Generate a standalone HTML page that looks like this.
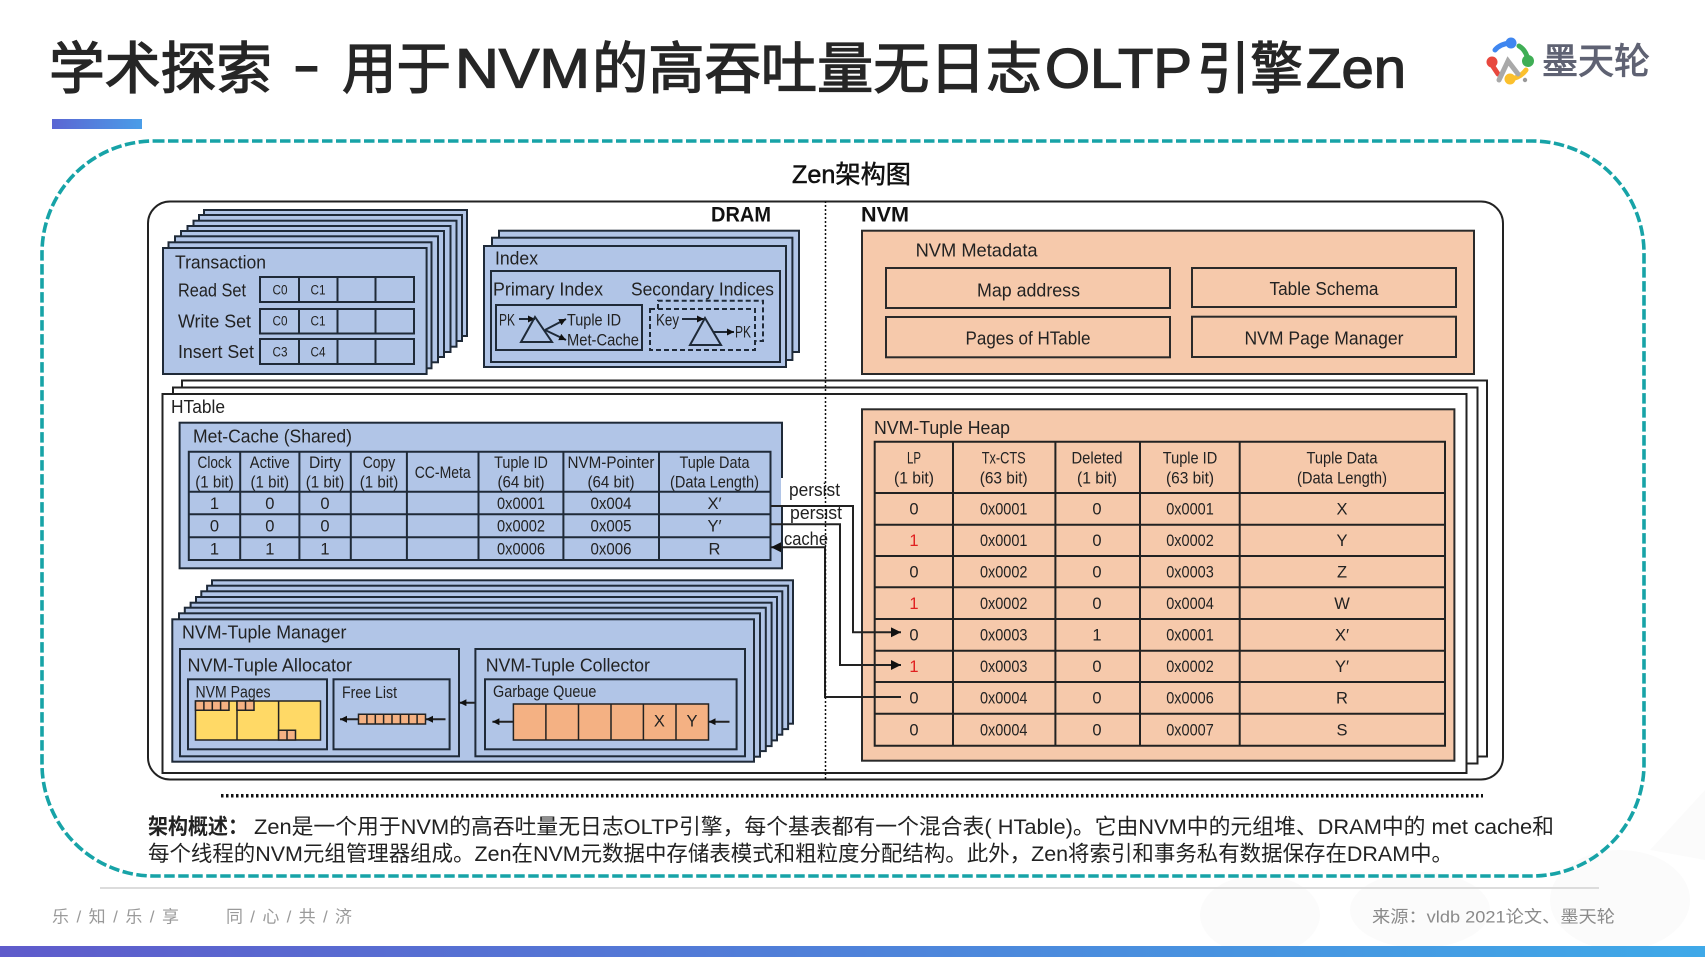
<!DOCTYPE html>
<html lang="zh"><head><meta charset="utf-8"><title>Zen架构图</title>
<style>
html,body{margin:0;padding:0;background:#fff;width:1705px;height:957px;overflow:hidden}
svg{display:block}
text{font-family:"Liberation Sans","Noto Sans CJK SC",sans-serif;fill:#222;font-size:18px;dominant-baseline:central}
.m{text-anchor:middle}
.s{font-size:16.5px}
.c{font-size:13.5px}
.b{fill:#b1c5e7;stroke:#1f2a38;stroke-width:2}
.o{fill:#f6c9ab;stroke:#2a2a2a;stroke-width:2}
.w{fill:#fff;stroke:#222;stroke-width:2}
.n{fill:none;stroke:#1f2a38;stroke-width:2}
.l{fill:none;stroke:#222;stroke-width:2}
.q{fill:#f4b183;stroke:#222;stroke-width:1.5}
.r{fill:#e02020}
.f{fill:#9a9a9a;font-size:17px}
.t{font-size:56px;fill:#262626;stroke:#262626;stroke-width:1.3px}
</style></head><body>
<svg width="1705" height="957" viewBox="0 0 1705 957" xmlns="http://www.w3.org/2000/svg">
<defs>
<linearGradient id="g1"><stop offset="0" stop-color="#5f5bcb"/><stop offset="1" stop-color="#3fa9e8"/></linearGradient>
<linearGradient id="g2"><stop offset="0" stop-color="#5b66d3"/><stop offset="1" stop-color="#4a9de8"/></linearGradient>
<marker id="a" markerUnits="userSpaceOnUse" markerWidth="11" markerHeight="11" refX="10" refY="5" orient="auto"><path d="M0 0L10 5L0 10Z" fill="#111"/></marker>
<marker id="a2" markerUnits="userSpaceOnUse" markerWidth="8" markerHeight="8" refX="7" refY="3.5" orient="auto"><path d="M0 0L7 3.5L0 7Z" fill="#111"/></marker>
</defs>

<!-- faint watermark -->
<g fill="#fbfbfb">
<ellipse cx="1260" cy="915" rx="60" ry="40"/>
<ellipse cx="1420" cy="910" rx="70" ry="38"/>
<ellipse cx="1620" cy="900" rx="70" ry="50"/>
<path d="M1650 850L1705 790V860Z"/>
</g>

<!-- header -->
<text class="t" x="49" y="69" textLength="223" lengthAdjust="spacingAndGlyphs">学术探索</text>
<text class="t" x="293" y="64" textLength="27" lengthAdjust="spacingAndGlyphs">-</text>
<text class="t" x="342" y="69" textLength="109" lengthAdjust="spacingAndGlyphs">用于</text>
<text class="t" x="455" y="68" textLength="135" lengthAdjust="spacingAndGlyphs">NVM</text>
<text class="t" x="592" y="69" textLength="450" lengthAdjust="spacingAndGlyphs">的高吞吐量无日志</text>
<text class="t" x="1045" y="68" textLength="147" lengthAdjust="spacingAndGlyphs">OLTP</text>
<text class="t" x="1197" y="69" textLength="106" lengthAdjust="spacingAndGlyphs">引擎</text>
<text class="t" x="1306" y="68" textLength="100" lengthAdjust="spacingAndGlyphs">Zen</text>
<rect x="52" y="119" width="90" height="10" fill="url(#g2)"/>

<!-- logo -->
<g fill="none" stroke-width="5" stroke-linecap="round">
<path d="M1495 50Q1500 44 1510 43" stroke="#3f86f0"/><circle cx="1511" cy="43" r="5.5" fill="#3f86f0" stroke="none"/>
<path d="M1519 46Q1526 50 1528 60" stroke="#3fae55"/><circle cx="1528" cy="61" r="6" fill="#3fae55" stroke="none"/>
<circle cx="1492" cy="62" r="5.5" fill="#e8483e" stroke="none"/><path d="M1492 65L1498 74" stroke="#e8483e"/>
<path d="M1510 79Q1520 78 1526 70" stroke="#fbc02d"/><circle cx="1510" cy="79" r="5.5" fill="#fbc02d" stroke="none"/>
<path d="M1499 80L1508 61L1518 74" stroke="#a9a9a9"/><circle cx="1525" cy="80" r="2.2" fill="#999" stroke="none"/>
</g>
<text x="1542" y="61" textLength="108" lengthAdjust="spacingAndGlyphs" style="font-size:36px;fill:#5f6273;stroke:#5f6273;stroke-width:.9px">墨天轮</text>

<!-- dashed frame -->
<rect x="42" y="141" width="1602" height="735" rx="112" ry="112" fill="none" stroke="#17a3a7" stroke-width="3.6" stroke-dasharray="10.5 3.5"/>
<text x="792" y="175" textLength="119" lengthAdjust="spacingAndGlyphs" style="font-size:25px;fill:#111;stroke:#111;stroke-width:.5px">Zen架构图</text>

<!-- outer container -->
<rect x="148" y="201.500" width="1355" height="578" rx="22" fill="#fff" stroke="#222" stroke-width="2"/>

<!-- HTable stack -->
<rect class="w" x="182" y="380.500" width="1305" height="376"/>
<rect class="w" x="173" y="387.500" width="1304.500" height="376"/>
<rect class="w" x="162.500" y="394" width="1304" height="379"/>
<text x="171" y="407" textLength="54" lengthAdjust="spacingAndGlyphs">HTable</text>

<text x="711" y="215" textLength="60" lengthAdjust="spacingAndGlyphs" style="font-size:21px;font-weight:700;fill:#111">DRAM</text>
<text x="861" y="215" textLength="48" lengthAdjust="spacingAndGlyphs" style="font-size:21px;font-weight:700;fill:#111">NVM</text>

<!-- Transaction stack -->
<g class="b">
<rect class="b" x="204" y="210" width="263" height="126"/>
<rect class="b" x="199" y="215" width="263" height="126"/>
<rect class="b" x="193.500" y="220.700" width="263" height="126"/>
<rect class="b" x="187.500" y="226" width="263" height="126"/>
<rect class="b" x="181" y="231" width="263" height="126"/>
<rect class="b" x="175" y="236.300" width="263" height="126"/>
<rect class="b" x="168.500" y="242.300" width="263" height="126"/>
<rect class="b" x="163" y="248" width="263.600" height="126"/>
</g>
<text x="175" y="262.500" textLength="91" lengthAdjust="spacingAndGlyphs">Transaction</text>
<text x="178" y="290.500" textLength="68" lengthAdjust="spacingAndGlyphs">Read Set</text>
<text x="178" y="321.500" textLength="73" lengthAdjust="spacingAndGlyphs">Write Set</text>
<text x="178" y="352" textLength="76" lengthAdjust="spacingAndGlyphs">Insert Set</text>
<g class="n">
<rect class="n" x="260" y="277" width="154" height="25"/><path class="n" d="M299 277V302M337.500 277V302M375.500 277V302"/>
<rect class="n" x="260" y="309" width="154" height="24.500"/><path class="n" d="M299 309V333.500M337.500 309V333.500M375.500 309V333.500"/>
<rect class="n" x="260" y="339" width="154" height="25"/><path class="n" d="M299 339V364M337.500 339V364M375.500 339V364"/>
</g>
<g class="c">
<text class="m c" x="280" y="290" textLength="15" lengthAdjust="spacingAndGlyphs">C0</text><text class="m c" x="318" y="290" textLength="15" lengthAdjust="spacingAndGlyphs">C1</text>
<text class="m c" x="280" y="321" textLength="15" lengthAdjust="spacingAndGlyphs">C0</text><text class="m c" x="318" y="321" textLength="15" lengthAdjust="spacingAndGlyphs">C1</text>
<text class="m c" x="280" y="352" textLength="15" lengthAdjust="spacingAndGlyphs">C3</text><text class="m c" x="318" y="352" textLength="15" lengthAdjust="spacingAndGlyphs">C4</text>
</g>

<!-- Index stack -->
<rect class="b" x="499" y="230.700" width="300" height="121.300"/>
<rect class="b" x="492" y="237.700" width="300.400" height="122.300"/>
<rect class="b" x="484" y="246" width="302" height="121"/>
<rect class="n" x="491" y="271" width="289" height="91"/>
<text x="495" y="258.500" textLength="43" lengthAdjust="spacingAndGlyphs">Index</text>
<text x="493" y="289.500" textLength="110" lengthAdjust="spacingAndGlyphs">Primary Index</text>
<text x="631" y="289.500" textLength="143" lengthAdjust="spacingAndGlyphs">Secondary Indices</text>
<rect class="n" x="496" y="305" width="146" height="45"/>
<text class="s" x="499" y="320.500" textLength="16" lengthAdjust="spacingAndGlyphs">PK</text>
<path class="n" d="M519 319H535" marker-end="url(#a2)"/>
<path class="n" d="M535 317L521 342H552Z"/>
<path class="n" d="M545 330L566 319" marker-end="url(#a2)"/>
<path class="n" d="M545 330L566 340" marker-end="url(#a2)"/>
<text class="s" x="567" y="320.500" textLength="54" lengthAdjust="spacingAndGlyphs">Tuple ID</text>
<text class="s" x="567" y="340.500" textLength="72" lengthAdjust="spacingAndGlyphs">Met-Cache</text>
<path class="n" d="M658 309V300.700H763V341H755" stroke-dasharray="5 3"/>
<rect class="n" x="650" y="309" width="105" height="41" stroke-dasharray="5 3"/>
<text class="s" x="656" y="320.500" textLength="23" lengthAdjust="spacingAndGlyphs">Key</text>
<path class="n" d="M682 319H704" marker-end="url(#a2)"/>
<path class="n" d="M705 318L690 345H721Z"/>
<path class="n" d="M713 332H734" marker-end="url(#a2)"/>
<text class="s" x="735" y="332.500" textLength="16" lengthAdjust="spacingAndGlyphs">PK</text>

<!-- NVM Metadata -->
<rect class="o" x="862" y="230.700" width="612" height="143.300"/>
<text x="915.600" y="250.500" textLength="122" lengthAdjust="spacingAndGlyphs">NVM Metadata</text>
<rect class="o" x="886" y="268" width="284" height="40"/>
<rect class="o" x="1192" y="268" width="264" height="39"/>
<rect class="o" x="886" y="317" width="284" height="40.300"/>
<rect class="o" x="1192" y="316.700" width="264" height="40.300"/>
<text class="m" x="1028.500" y="290.500" textLength="103" lengthAdjust="spacingAndGlyphs">Map address</text>
<text class="m" x="1324" y="289.200" textLength="109" lengthAdjust="spacingAndGlyphs">Table Schema</text>
<text class="m" x="1028" y="338.500" textLength="125" lengthAdjust="spacingAndGlyphs">Pages of HTable</text>
<text class="m" x="1324" y="338.500" textLength="159" lengthAdjust="spacingAndGlyphs">NVM Page Manager</text>

<!-- Met-Cache -->
<rect class="b" x="179.600" y="422.700" width="602.400" height="145.600"/>
<rect x="781" y="478" width="6" height="28" fill="#fff"/>
<text x="193" y="436.500" textLength="159" lengthAdjust="spacingAndGlyphs">Met-Cache (Shared)</text>
<path class="n" d="M188.800 451.700H770.500V560H188.800ZM188.800 491.700H770.500M188.800 514.300H770.500M188.800 537.300H770.500M240.200 451.700V560M299.400 451.700V560M350.800 451.700V560M406.900 451.700V560M478.500 451.700V560M563.400 451.700V560M659 451.700V560"/>
<text class="m s" x="214.500" y="463" textLength="34" lengthAdjust="spacingAndGlyphs">Clock</text><text class="m s" x="214.500" y="482.600" textLength="38.500" lengthAdjust="spacingAndGlyphs">(1 bit)</text>
<text class="m s" x="269.800" y="463" textLength="40" lengthAdjust="spacingAndGlyphs">Active</text><text class="m s" x="269.800" y="482.600" textLength="38.500" lengthAdjust="spacingAndGlyphs">(1 bit)</text>
<text class="m s" x="325" y="463" textLength="32" lengthAdjust="spacingAndGlyphs">Dirty</text><text class="m s" x="325" y="482.600" textLength="38.500" lengthAdjust="spacingAndGlyphs">(1 bit)</text>
<text class="m s" x="379" y="463" textLength="32.600" lengthAdjust="spacingAndGlyphs">Copy</text><text class="m s" x="379" y="482.600" textLength="38.500" lengthAdjust="spacingAndGlyphs">(1 bit)</text>
<text class="m s" x="442.700" y="473" textLength="56" lengthAdjust="spacingAndGlyphs">CC-Meta</text>
<text class="m s" x="521" y="463" textLength="53.700" lengthAdjust="spacingAndGlyphs">Tuple ID</text><text class="m s" x="521" y="482.600" textLength="47" lengthAdjust="spacingAndGlyphs">(64 bit)</text>
<text class="m s" x="611" y="463" textLength="87" lengthAdjust="spacingAndGlyphs">NVM-Pointer</text><text class="m s" x="611" y="482.600" textLength="47" lengthAdjust="spacingAndGlyphs">(64 bit)</text>
<text class="m s" x="714.500" y="463" textLength="70" lengthAdjust="spacingAndGlyphs">Tuple Data</text><text class="m s" x="714.500" y="482.600" textLength="89" lengthAdjust="spacingAndGlyphs">(Data Length)</text>
<text class="m s" x="214.500" y="504">1</text><text class="m s" x="269.800" y="504">0</text><text class="m s" x="325" y="504">0</text><text class="m s" x="521" y="504" textLength="48" lengthAdjust="spacingAndGlyphs">0x0001</text><text class="m s" x="611" y="504" textLength="41" lengthAdjust="spacingAndGlyphs">0x004</text><text class="m s" x="714.500" y="504">X′</text>
<text class="m s" x="214.500" y="526.600">0</text><text class="m s" x="269.800" y="526.600">0</text><text class="m s" x="325" y="526.600">0</text><text class="m s" x="521" y="526.600" textLength="48" lengthAdjust="spacingAndGlyphs">0x0002</text><text class="m s" x="611" y="526.600" textLength="41" lengthAdjust="spacingAndGlyphs">0x005</text><text class="m s" x="714.500" y="526.600">Y′</text>
<text class="m s" x="214.500" y="549.600">1</text><text class="m s" x="269.800" y="549.600">1</text><text class="m s" x="325" y="549.600">1</text><text class="m s" x="521" y="549.600" textLength="48" lengthAdjust="spacingAndGlyphs">0x0006</text><text class="m s" x="611" y="549.600" textLength="41" lengthAdjust="spacingAndGlyphs">0x006</text><text class="m s" x="714.500" y="549.600">R</text>

<!-- NVM-Tuple Heap -->
<rect class="o" x="862" y="409.300" width="592.400" height="351.400"/>
<text x="874" y="428.200" textLength="136" lengthAdjust="spacingAndGlyphs">NVM-Tuple Heap</text>
<path class="l" d="M874.700 441.700H1445V745.700H874.700ZM874.700 493H1445M874.700 524.700H1445M874.700 556H1445M874.700 587.300H1445M874.700 619H1445M874.700 650.700H1445M874.700 682H1445M874.700 713.700H1445M953 441.700V745.700M1055.400 441.700V745.700M1140 441.700V745.700M1239.700 441.700V745.700"/>
<text class="m s" x="914" y="458.300" textLength="14" lengthAdjust="spacingAndGlyphs">LP</text><text class="m s" x="914" y="478.300" textLength="40" lengthAdjust="spacingAndGlyphs">(1 bit)</text>
<text class="m s" x="1003.700" y="458.300" textLength="44" lengthAdjust="spacingAndGlyphs">Tx-CTS</text><text class="m s" x="1003.700" y="478.300" textLength="48" lengthAdjust="spacingAndGlyphs">(63 bit)</text>
<text class="m s" x="1097" y="458.300" textLength="51" lengthAdjust="spacingAndGlyphs">Deleted</text><text class="m s" x="1097" y="478.300" textLength="40" lengthAdjust="spacingAndGlyphs">(1 bit)</text>
<text class="m s" x="1190" y="458.300" textLength="54.500" lengthAdjust="spacingAndGlyphs">Tuple ID</text><text class="m s" x="1190" y="478.300" textLength="48" lengthAdjust="spacingAndGlyphs">(63 bit)</text>
<text class="m s" x="1342" y="458.300" textLength="71" lengthAdjust="spacingAndGlyphs">Tuple Data</text><text class="m s" x="1342" y="478.300" textLength="90" lengthAdjust="spacingAndGlyphs">(Data Length)</text>

<text class="m s" x="914" y="509.300">0</text><text class="m s" x="1003.700" y="509.300" textLength="47.500" lengthAdjust="spacingAndGlyphs">0x0001</text><text class="m s" x="1097" y="509.300">0</text><text class="m s" x="1190" y="509.300" textLength="47.500" lengthAdjust="spacingAndGlyphs">0x0001</text><text class="m s" x="1342" y="509.300">X</text>
<text class="m s r" x="914" y="541">1</text><text class="m s" x="1003.700" y="541" textLength="47.500" lengthAdjust="spacingAndGlyphs">0x0001</text><text class="m s" x="1097" y="541">0</text><text class="m s" x="1190" y="541" textLength="47.500" lengthAdjust="spacingAndGlyphs">0x0002</text><text class="m s" x="1342" y="541">Y</text>
<text class="m s" x="914" y="572.700">0</text><text class="m s" x="1003.700" y="572.700" textLength="47.500" lengthAdjust="spacingAndGlyphs">0x0002</text><text class="m s" x="1097" y="572.700">0</text><text class="m s" x="1190" y="572.700" textLength="47.500" lengthAdjust="spacingAndGlyphs">0x0003</text><text class="m s" x="1342" y="572.700">Z</text>
<text class="m s r" x="914" y="604">1</text><text class="m s" x="1003.700" y="604" textLength="47.500" lengthAdjust="spacingAndGlyphs">0x0002</text><text class="m s" x="1097" y="604">0</text><text class="m s" x="1190" y="604" textLength="47.500" lengthAdjust="spacingAndGlyphs">0x0004</text><text class="m s" x="1342" y="604">W</text>
<text class="m s" x="914" y="635.700">0</text><text class="m s" x="1003.700" y="635.700" textLength="47.500" lengthAdjust="spacingAndGlyphs">0x0003</text><text class="m s" x="1097" y="635.700">1</text><text class="m s" x="1190" y="635.700" textLength="47.500" lengthAdjust="spacingAndGlyphs">0x0001</text><text class="m s" x="1342" y="635.700">X′</text>
<text class="m s r" x="914" y="667">1</text><text class="m s" x="1003.700" y="667" textLength="47.500" lengthAdjust="spacingAndGlyphs">0x0003</text><text class="m s" x="1097" y="667">0</text><text class="m s" x="1190" y="667" textLength="47.500" lengthAdjust="spacingAndGlyphs">0x0002</text><text class="m s" x="1342" y="667">Y′</text>
<text class="m s" x="914" y="698.700">0</text><text class="m s" x="1003.700" y="698.700" textLength="47.500" lengthAdjust="spacingAndGlyphs">0x0004</text><text class="m s" x="1097" y="698.700">0</text><text class="m s" x="1190" y="698.700" textLength="47.500" lengthAdjust="spacingAndGlyphs">0x0006</text><text class="m s" x="1342" y="698.700">R</text>
<text class="m s" x="914" y="730.300">0</text><text class="m s" x="1003.700" y="730.300" textLength="47.500" lengthAdjust="spacingAndGlyphs">0x0004</text><text class="m s" x="1097" y="730.300">0</text><text class="m s" x="1190" y="730.300" textLength="47.500" lengthAdjust="spacingAndGlyphs">0x0007</text><text class="m s" x="1342" y="730.300">S</text>

<!-- NVM-Tuple Manager stack -->
<rect class="b" x="212" y="580.300" width="581" height="143.400"/>
<rect class="b" x="207.100" y="585.700" width="581" height="143.400"/>
<rect class="b" x="201.300" y="591.300" width="581" height="143.400"/>
<rect class="b" x="196" y="597" width="581" height="143.400"/>
<rect class="b" x="190.600" y="602.700" width="581" height="143.400"/>
<rect class="b" x="184.800" y="607.700" width="581" height="143.400"/>
<rect class="b" x="179" y="613.300" width="581" height="143.400"/>
<rect class="b" x="172.300" y="619.300" width="581.700" height="142.400"/>
<text x="182" y="632.500" textLength="164.400" lengthAdjust="spacingAndGlyphs">NVM-Tuple Manager</text>
<rect class="n" x="180" y="649" width="279" height="107.300"/>
<text x="187.500" y="665.500" textLength="164.500" lengthAdjust="spacingAndGlyphs">NVM-Tuple Allocator</text>
<rect class="n" x="188" y="679.300" width="139" height="70"/>
<text class="s" x="195.500" y="692.300" textLength="75" lengthAdjust="spacingAndGlyphs">NVM Pages</text>
<rect x="195.500" y="701" width="125" height="39" fill="#ffd966" stroke="#222" stroke-width="1.500"/>
<path d="M237 701V740M278.600 701V740" class="l" style="stroke-width:1.500"/>
<path class="q" d="M195.500 701H229V710.300H195.500ZM203.900 701V710.300M212.300 701V710.300M220.600 701V710.300M237 701H254V710.300H237ZM245.500 701V710.300M278.600 730.300H295.500V740H278.600ZM287 730.300V740"/>
<rect class="n" x="333.500" y="679.300" width="116.100" height="70"/>
<text class="s" x="342" y="693" textLength="55" lengthAdjust="spacingAndGlyphs">Free List</text>
<path class="l" d="M359 719.300H340" marker-end="url(#a2)"/>
<path class="q" d="M358.500 714.300H425.500V724H358.500ZM366.900 714.300V724M375.300 714.300V724M383.600 714.300V724M392 714.300V724M400.400 714.300V724M408.800 714.300V724M417.100 714.300V724"/>
<path class="l" d="M445.500 719.300H426" marker-end="url(#a2)"/>
<path class="l" d="M476 702.700H459.400" marker-end="url(#a2)"/>
<rect class="n" x="475.400" y="649" width="269.600" height="107.300"/>
<text x="485.700" y="665.500" textLength="164.300" lengthAdjust="spacingAndGlyphs">NVM-Tuple Collector</text>
<rect class="n" x="485" y="679.300" width="251.600" height="70"/>
<text class="s" x="493" y="692" textLength="103.400" lengthAdjust="spacingAndGlyphs">Garbage Queue</text>
<path class="q" d="M513.400 704H708.500V740H513.400ZM545.900 704V740M578.500 704V740M611 704V740M643.400 704V740M676 704V740"/>
<text class="m s" x="659.400" y="721.500">X</text><text class="m s" x="692" y="721.500">Y</text>
<path class="l" d="M513.400 721.700H492.400" marker-end="url(#a2)"/>
<path class="l" d="M729.500 721.700H708.600" marker-end="url(#a2)"/>

<!-- connectors -->
<path class="l" d="M771 506H853V632.300H901" marker-end="url(#a)"/>
<path class="l" d="M771 524.300H840V665H901" marker-end="url(#a)"/>
<path class="l" d="M901 697H825V547.300H771" marker-end="url(#a)"/>
<text x="789" y="490" textLength="51" lengthAdjust="spacingAndGlyphs">persist</text>
<text x="790" y="513" textLength="52" lengthAdjust="spacingAndGlyphs">persist</text>
<text x="784" y="539" textLength="44" lengthAdjust="spacingAndGlyphs">cache</text>

<!-- DRAM / NVM divider -->
<path d="M825.500 201V779" stroke="#111" stroke-width="1.500" stroke-dasharray="2 2" fill="none"/>

<!-- dotted rule -->
<path d="M221 795.700H1483" stroke="#111" stroke-width="3.500" stroke-dasharray="2.500 2.500" fill="none"/>

<!-- description -->
<text x="148" y="827" textLength="100" lengthAdjust="spacingAndGlyphs" style="font-size:21.500px;font-weight:700">架构概述：</text>
<text x="254" y="827" textLength="1300" lengthAdjust="spacingAndGlyphs" style="font-size:21.500px">Zen是一个用于NVM的高吞吐量无日志OLTP引擎，每个基表都有一个混合表( HTable)。它由NVM中的元组堆、DRAM中的 met cache和</text>
<text x="148" y="854" textLength="1305" lengthAdjust="spacingAndGlyphs" style="font-size:21.500px">每个线程的NVM元组管理器组成。Zen在NVM元数据中存储表模式和粗粒度分配结构。此外，Zen将索引和事务私有数据保存在DRAM中。</text>

<!-- footer -->
<rect x="100" y="887" width="1499" height="2" fill="#dcdcdc"/>
<text class="f" x="52" y="917" textLength="127" lengthAdjust="spacing">乐 / 知 / 乐 / 享</text>
<text class="f" x="226" y="917" textLength="126" lengthAdjust="spacing">同 / 心 / 共 / 济</text>
<text class="f" x="1372" y="917" textLength="243" lengthAdjust="spacingAndGlyphs" style="fill:#8a8a8a">来源：vldb 2021论文、墨天轮</text>
<rect x="0" y="946" width="1705" height="11" fill="url(#g1)"/>
</svg>
</body></html>
